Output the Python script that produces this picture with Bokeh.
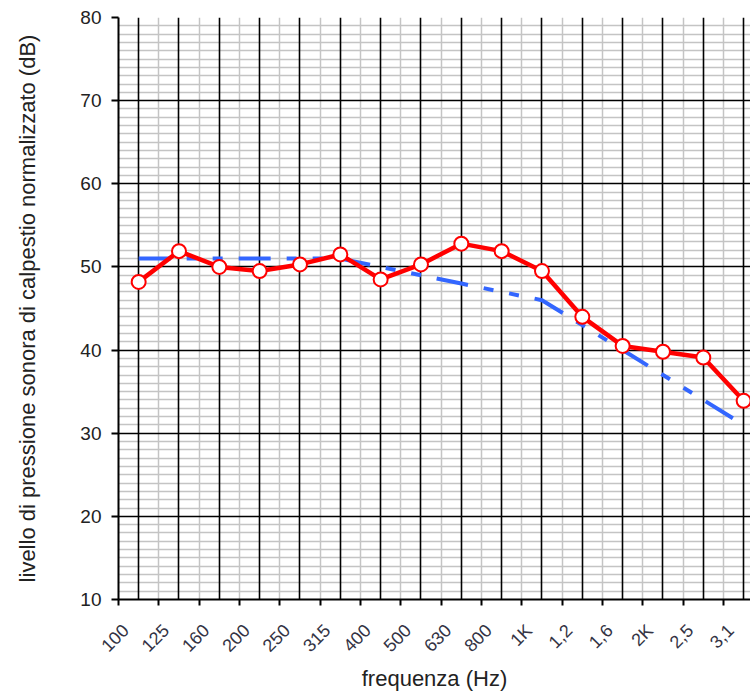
import math
from bokeh.plotting import figure
from bokeh.models import Range1d, FixedTicker, Grid, LinearAxis
from bokeh.embed import file_html
from bokeh.resources import INLINE

# --- data ---
freq_labels = ["100", "125", "160", "200", "250", "315", "400", "500",
               "630", "800", "1K", "1,2", "1,6", "2K", "2,5", "3,1"]
measured = [48.2, 51.9, 50.0, 49.5, 50.3, 51.5, 48.5, 50.3,
            52.8, 51.9, 49.5, 44.0, 40.5, 39.8, 39.1, 33.9]
reference = [51, 51, 51, 51, 51, 51, 50, 49, 48, 47, 46, 43, 40, 37, 34, 31]

n = len(freq_labels)
xs = [i + 0.5 for i in range(n)]
tick_pos = list(range(n))
label_pos = [i + 0.18 for i in range(n)]

FONT = "Liberation Sans"

p = figure(width=750, height=696, x_range=Range1d(0, 15.67), y_range=Range1d(10, 80),
           output_backend="svg", toolbar_location=None,
           min_border_left=118, min_border_right=0, min_border_top=17, min_border_bottom=97,
           x_axis_location=None, y_axis_location=None)
p.outline_line_color = None
p.background_fill_color = "white"
p.border_fill_color = "white"
p.xgrid.visible = False
p.ygrid.visible = False

# grids: minor grey first, then major black
g1 = Grid(dimension=0, ticker=FixedTicker(ticks=tick_pos[1:]), grid_line_color="#c4c4c4", grid_line_width=1.5)
g2 = Grid(dimension=1, ticker=FixedTicker(ticks=[v for v in range(11, 80) if v % 10 != 0]),
          grid_line_color="#c4c4c4", grid_line_width=1.5)
g3 = Grid(dimension=0, ticker=FixedTicker(ticks=xs), grid_line_color="black", grid_line_width=1.6)
g4 = Grid(dimension=1, ticker=FixedTicker(ticks=list(range(20, 81, 10))), grid_line_color="black", grid_line_width=1.6)
for g in (g1, g2, g3, g4):
    p.add_layout(g)

# y axis
yaxis = LinearAxis(ticker=FixedTicker(ticks=list(range(10, 81, 10))),
                   axis_label="livello di pressione sonora di calpestio normalizzato (dB)")
yaxis.axis_line_color = "black"
yaxis.axis_line_width = 2
yaxis.major_tick_line_color = "black"
yaxis.major_tick_line_width = 2
yaxis.major_tick_out = 7
yaxis.major_tick_in = 0
yaxis.minor_tick_line_color = None
yaxis.major_label_standoff = 10
yaxis.major_label_text_font = FONT
yaxis.major_label_text_font_size = "19px"
yaxis.major_label_text_color = "#222222"
yaxis.axis_label_text_font = FONT
yaxis.axis_label_text_font_size = "22px"
yaxis.axis_label_text_font_style = "normal"
yaxis.axis_label_text_color = "#222222"
yaxis.axis_label_standoff = 37
p.add_layout(yaxis, "left")

# x axis: tick marks
xticks = LinearAxis(ticker=FixedTicker(ticks=tick_pos))
xticks.major_label_overrides = {i: "" for i in tick_pos}
xticks.major_label_text_font_size = "1px"
xticks.major_label_standoff = 0
xticks.axis_line_color = "black"
xticks.axis_line_width = 2
xticks.major_tick_line_color = "black"
xticks.major_tick_line_width = 2
xticks.major_tick_out = 6
xticks.major_tick_in = 0
xticks.minor_tick_line_color = None
p.add_layout(xticks, "below")

# x axis: rotated labels and title
xlab = LinearAxis(ticker=FixedTicker(ticks=label_pos), axis_label="frequenza (Hz)")
xlab.major_label_overrides = {pos: lab for pos, lab in zip(label_pos, freq_labels)}
xlab.major_label_orientation = math.pi / 4
xlab.axis_line_color = None
xlab.major_tick_line_color = None
xlab.minor_tick_line_color = None
xlab.major_tick_out = 0
xlab.major_tick_in = 0
xlab.major_label_standoff = 22
xlab.major_label_text_font = FONT
xlab.major_label_text_font_size = "18px"
xlab.major_label_text_color = "#333344"
xlab.axis_label_text_font = FONT
xlab.axis_label_text_font_size = "22px"
xlab.axis_label_text_font_style = "normal"
xlab.axis_label_text_color = "#222222"
xlab.axis_label_standoff = 0
p.add_layout(xlab, "below")

# series
p.line(xs, reference, line_color="#3366ff", line_width=4, line_dash="32 16 10 16 10 16")
p.line(xs, measured, line_color="#ff0000", line_width=4.5)
p.scatter(xs, measured, size=14, marker="circle", fill_color="white", line_color="#ff0000", line_width=2)

open("out.html", "w").write(file_html(p, INLINE))
